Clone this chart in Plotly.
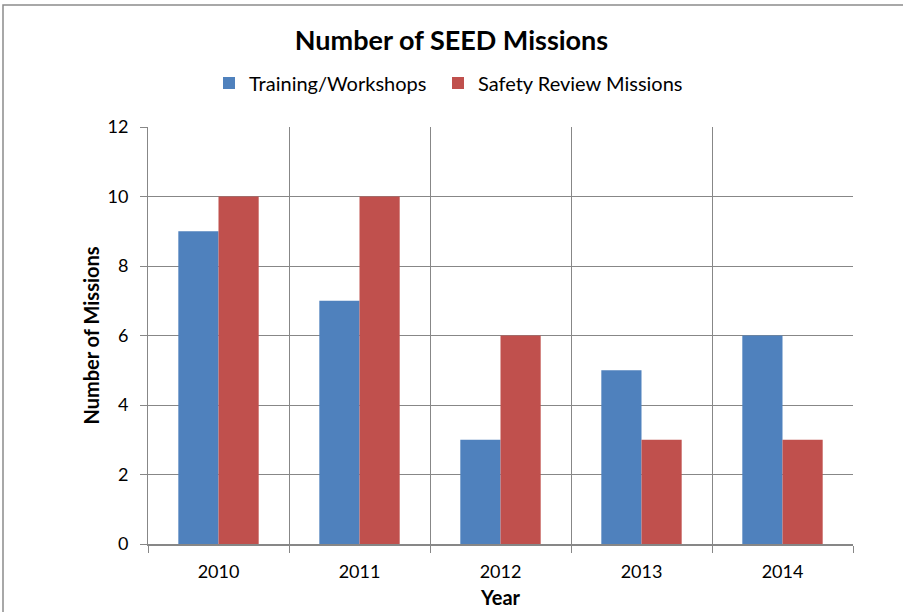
import plotly.graph_objects as go

years = ["2010", "2011", "2012", "2013", "2014"]
training = [9, 7, 3, 5, 6]
safety = [10, 10, 6, 3, 3]
ytick_vals = [0, 2, 4, 6, 8, 10, 12]

xpos = list(range(len(years)))
FONT = "Lato, 'Open Sans', sans-serif"

fig = go.Figure()
fig.add_trace(go.Bar(x=xpos, y=training, name="Training/Workshops", legend="legend",
                     showlegend=True,
                     marker=dict(color="#4F81BD", line=dict(width=0))))
fig.add_trace(go.Bar(x=xpos, y=safety, name="Safety Review Missions", legend="legend2",
                     showlegend=True,
                     marker=dict(color="#C0504D", line=dict(width=0))))

W, H = 903, 612
L, R, T, B = 148, 50, 127, 68
pw, ph = W - L - R, H - T - B
leg_y = 1 + (127 - 83) / ph

fig.update_layout(
    width=W, height=H, showlegend=True,
    margin=dict(l=L, r=R, t=T, b=B, autoexpand=False),
    paper_bgcolor="white", plot_bgcolor="white",
    barmode="group", bargap=0.43, bargroupgap=0,
    font=dict(family=FONT, size=18, color="black"),
    title=dict(text="<b>Number of SEED Missions</b>", x=0.5, xanchor="center",
               y=1 - 41 / H, yanchor="middle", font=dict(size=27, family=FONT)),
    legend=dict(orientation="h", x=(209 - L) / pw, xanchor="left", visible=True,
                y=leg_y, yanchor="middle", font=dict(size=20), itemwidth=30),
    legend2=dict(orientation="h", x=(438 - L) / pw, xanchor="left", visible=True,
                 y=leg_y, yanchor="middle", font=dict(size=20), itemwidth=30),
    xaxis=dict(range=[-0.5, len(years) - 0.5], tickmode="array", tickvals=xpos,
               ticktext=years, ticks="", showgrid=False, zeroline=False,
               showline=True, linecolor="#878787", linewidth=2,
               tickfont=dict(size=18), ticklabelstandoff=10, automargin=False,
               minor=dict(tick0=-0.5, dtick=1, showgrid=True, gridcolor="#878787",
                          gridwidth=1, ticks="outside", ticklen=7,
                          tickcolor="#878787"),
               title=dict(text="<b>Year</b>", font=dict(size=20), standoff=10)),
    yaxis=dict(range=[0, 12], tickmode="array", tickvals=ytick_vals,
               showgrid=True, gridcolor="#878787", gridwidth=1, zeroline=False,
               showline=True, linecolor="#878787", linewidth=1,
               ticks="outside", ticklen=7, tickcolor="#878787",
               tickfont=dict(size=18), ticklabelstandoff=8, automargin=False,
               title=dict(text="<b>Number of Missions</b>", font=dict(size=20),
                          standoff=2)),
    shapes=[dict(type="rect", xref="paper", yref="paper",
                 x0=(3 - L) / pw, x1=2, y0=-1, y1=(H - B - 5) / ph,
                 line=dict(color="#8c8c8c", width=1.5), fillcolor="rgba(0,0,0,0)",
                 layer="below")],
)

fig.write_html("out.html", config={"displayModeBar": False},
               post_script="document.body.style.margin='0';document.body.style.overflow='hidden';")
